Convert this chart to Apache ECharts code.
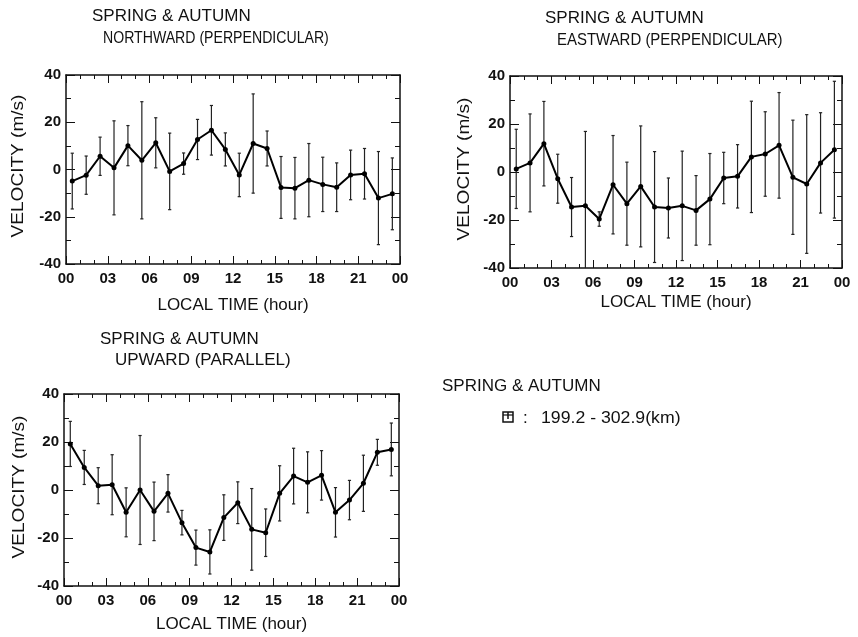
<!DOCTYPE html>
<html>
<head>
<meta charset="utf-8">
<script src="https://cdn.jsdelivr.net/npm/echarts@6/dist/echarts.min.js"></script>
<style>
  html, body { margin: 0; padding: 0; background: #fff; }
  #chart { width: 858px; height: 637px; }
</style>
</head>
<body>
<div id="chart"></div>
<script>
// Local time (hour) of each bin centre
const hours = [0.45, 1.45, 2.45, 3.45, 4.45, 5.45, 6.45, 7.45, 8.45, 9.45, 10.45, 11.45,
               12.45, 13.45, 14.45, 15.45, 16.45, 17.45, 18.45, 19.45, 20.45, 21.45, 22.45, 23.45];
const hourTicks = ['00', '03', '06', '09', '12', '15', '18', '21', '00'];

// Northward (perpendicular) drift, m/s, with one-sigma half widths
const northVel = [-4.9, -2.4, 5.6, 0.7, 10.1, 3.9, 11.3, -0.8, 2.5, 12.7, 16.6, 8.5,
                  -2.3, 11.0, 8.9, -7.6, -7.9, -4.5, -6.3, -7.5, -2.3, -1.8, -12.1, -10.3];
const northErr = [11.8, 8.1, 8.1, 19.9, 8.5, 24.8, 10.6, 16.2, 4.5, 8.5, 10.5, 7.0,
                  9.2, 21.0, 7.4, 13.1, 13.0, 15.5, 11.5, 10.3, 10.5, 10.7, 19.7, 15.2];

// Eastward (perpendicular) drift
const eastVel = [1.3, 3.8, 11.8, -2.8, -14.6, -14.1, -19.6, -5.3, -13.2, -6.0, -14.6, -15.0,
                 -14.1, -16.0, -11.3, -2.5, -1.8, 6.3, 7.5, 11.1, -2.2, -5.0, 3.8, 9.3];
const eastErr = [16.5, 20.4, 17.6, 10.2, 12.3, 31.0, 3.0, 20.5, 17.3, 25.2, 23.1, 12.5,
                 22.8, 14.5, 19.0, 10.7, 13.2, 23.2, 17.6, 22.0, 23.8, 28.9, 20.9, 28.5];

// Upward (parallel) drift
const upVel = [19.2, 9.4, 1.8, 2.2, -9.3, 0.0, -8.9, -1.4, -13.6, -24.0, -25.8, -11.5,
               -5.3, -16.4, -17.8, -1.4, 5.8, 3.2, 6.1, -9.3, -4.2, 2.8, 15.7, 16.9];
const upErr = [9.4, 7.1, 7.5, 12.5, 10.2, 22.7, 12.2, 7.8, 5.1, 7.3, 9.2, 9.5,
               8.7, 17.0, 9.9, 11.5, 11.6, 12.7, 10.3, 10.3, 8.2, 11.7, 5.4, 11.0];

const FONT = 'Liberation Sans, Arial, sans-serif';
const INK = '#111';

const panels = [
  { grid: { left: 66, top: 75, width: 334, height: 189 }, vel: northVel, err: northErr, xGap: 33 },
  { grid: { left: 510, top: 76, width: 332, height: 192 }, vel: eastVel, err: eastErr, xGap: 26 },
  { grid: { left: 64, top: 394, width: 335, height: 192 }, vel: upVel, err: upErr, xGap: 30 }
];

const tickStyle = { color: INK, width: 1 };
const axisLine = { show: true, onZero: false, lineStyle: { color: INK, width: 1.5 } };

function xAxisFor(i, position, withLabels, gap) {
  return {
    type: 'value', gridIndex: i, position: position,
    min: 0, max: 24, interval: 3,
    axisLine: axisLine,
    axisTick: { show: true, inside: true, length: 8, lineStyle: tickStyle },
    minorTick: { show: true, splitNumber: 3, length: 4, lineStyle: tickStyle },
    splitLine: { show: false },
    axisLabel: withLabels ? {
      show: true, margin: 7, color: INK, fontSize: 15, fontWeight: 'bold', fontFamily: FONT,
      formatter: v => hourTicks[Math.round(v / 3)]
    } : { show: false },
    name: withLabels ? 'LOCAL TIME (hour)' : '',
    nameLocation: 'middle', nameGap: gap,
    nameTextStyle: { color: INK, fontSize: 17, fontFamily: FONT }
  };
}

function yAxisFor(i, position, withLabels) {
  return {
    type: 'value', gridIndex: i, position: position,
    min: -40, max: 40, interval: 20,
    axisLine: axisLine,
    axisTick: { show: true, inside: true, length: 9, lineStyle: tickStyle },
    minorTick: { show: true, splitNumber: 2, length: 5, lineStyle: tickStyle },
    splitLine: { show: false },
    axisLabel: withLabels ? {
      show: true, margin: 5, color: INK, fontSize: 15, fontWeight: 'bold', fontFamily: FONT
    } : { show: false }
  };
}

const grids = [], xAxes = [], yAxes = [], series = [];
panels.forEach((p, i) => {
  grids.push(p.grid);
  xAxes.push(xAxisFor(i, 'bottom', true, p.xGap));
  xAxes.push(xAxisFor(i, 'top', false, 0));
  yAxes.push(yAxisFor(i, 'left', true));
  yAxes.push(yAxisFor(i, 'right', false));

  // error bars with small caps
  series.push({
    type: 'custom', xAxisIndex: 2 * i, yAxisIndex: 2 * i, clip: true, z: 2,
    data: hours.map((h, k) => [h, p.vel[k], p.err[k]]),
    renderItem: function (params, api) {
      const x = api.value(0), y = api.value(1), e = api.value(2);
      const hi = api.coord([x, y + e]);
      const lo = api.coord([x, y - e]);
      const cap = 1.6;
      const st = { stroke: '#222', lineWidth: 1.2 };
      return {
        type: 'group',
        children: [
          { type: 'line', shape: { x1: hi[0], y1: hi[1], x2: lo[0], y2: lo[1] }, style: st },
          { type: 'line', shape: { x1: hi[0] - cap, y1: hi[1], x2: hi[0] + cap, y2: hi[1] }, style: st },
          { type: 'line', shape: { x1: lo[0] - cap, y1: lo[1], x2: lo[0] + cap, y2: lo[1] }, style: st }
        ]
      };
    }
  });

  // mean velocity line
  series.push({
    type: 'line', xAxisIndex: 2 * i, yAxisIndex: 2 * i, z: 3,
    data: hours.map((h, k) => [h, p.vel[k]]),
    symbol: 'circle', symbolSize: 5,
    itemStyle: { color: '#000' },
    lineStyle: { color: '#000', width: 2 },
    animation: false
  });
});

// plain text: x/y is the left-middle point of the line, sx stretches it horizontally
function text(str, x, y, sx, size) {
  return { type: 'text', x: x, y: y, scaleX: sx || 1,
           style: { text: str, fill: INK, font: (size || 17) + 'px ' + FONT,
                    textAlign: 'left', textVerticalAlign: 'middle' } };
}
// rotated axis title, centred on x/y
function vtext(str, x, y) {
  return { type: 'text', x: x, y: y, rotation: Math.PI / 2, scaleX: 1.12,
           style: { text: str, fill: INK, font: '17px ' + FONT,
                    textAlign: 'center', textVerticalAlign: 'middle' } };
}

const chart = echarts.init(document.getElementById('chart'), null, { renderer: 'canvas' });
chart.setOption({
  animation: false,
  backgroundColor: '#fff',
  grid: grids,
  xAxis: xAxes,
  yAxis: yAxes,
  series: series,
  graphic: [
    text('SPRING & AUTUMN', 92, 16),
    text('NORTHWARD (PERPENDICULAR)', 103, 38, 0.83),
    text('SPRING & AUTUMN', 545, 18),
    text('EASTWARD (PERPENDICULAR)', 557, 40, 0.88),
    text('SPRING & AUTUMN', 100, 339),
    text('UPWARD (PARALLEL)', 115, 360),
    text('SPRING & AUTUMN', 442, 386),
    text(':', 523, 418),
    text('199.2 - 302.9(km)', 541, 418, 1.04),
    vtext('VELOCITY (m/s)', 18, 166),
    vtext('VELOCITY (m/s)', 464, 169),
    vtext('VELOCITY (m/s)', 19, 487),
    // height-range marker symbol
    { type: 'rect', shape: { x: 503, y: 412, width: 10, height: 10 },
      style: { fill: 'none', stroke: INK, lineWidth: 1.5 } },
    { type: 'line', shape: { x1: 508, y1: 412, x2: 508, y2: 419 },
      style: { stroke: INK, lineWidth: 1.5 } },
    { type: 'line', shape: { x1: 503, y1: 415, x2: 513, y2: 415 },
      style: { stroke: INK, lineWidth: 1.2 } }
  ]
});
</script>
</body>
</html>
